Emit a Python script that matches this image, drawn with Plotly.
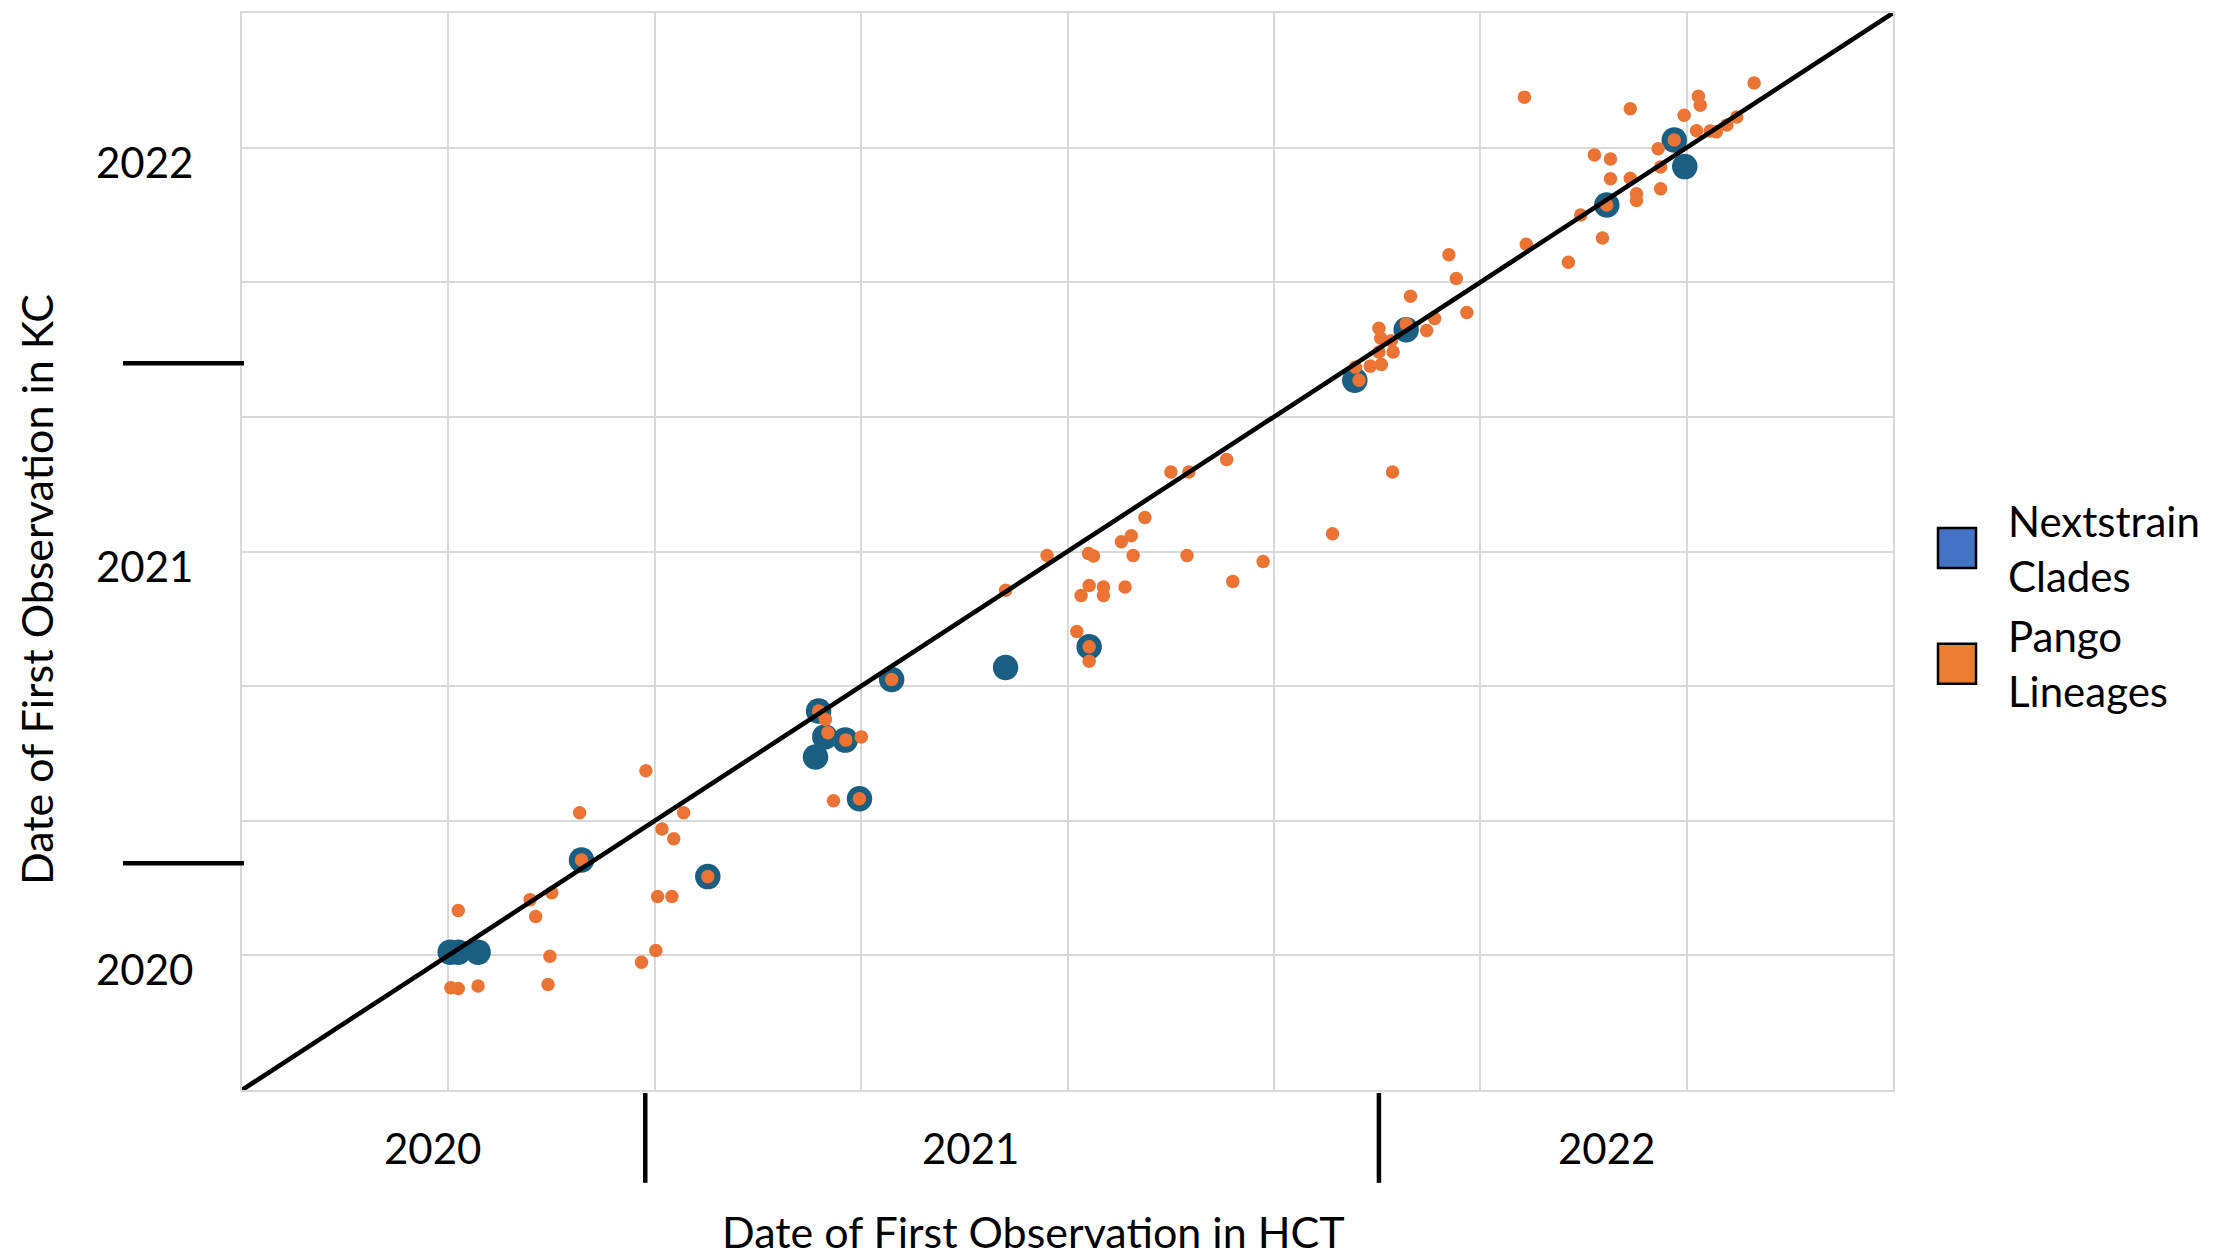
import plotly.graph_objects as go

# ---------------- data (decimal years) ----------------
series_names = ["Nextstrain Clades", "Pango Lineages"]

nextstrain_hct = [2020.003, 2020.016, 2020.048, 2020.215, 2020.419, 2020.716, 2020.900,
                  2020.598, 2020.608, 2020.641, 2020.593, 2020.664, 2021.035, 2021.464,
                  2021.547, 2021.871, 2021.980, 2021.997]
nextstrain_kc = [2020.008, 2020.008, 2020.008, 2020.236, 2020.195, 2020.683, 2020.713,
                 2020.605, 2020.541, 2020.533, 2020.491, 2020.388, 2020.764, 2021.424,
                 2021.549, 2021.858, 2022.019, 2021.953]

pango_hct = [2020.319, 2020.212, 2020.380, 2020.345, 2020.364, 2020.215, 2020.419, 2020.167,
             2020.132, 2020.141, 2020.016, 2020.338, 2020.361, 2020.164, 2020.335, 2020.312,
             2020.161, 2020.004, 2020.016, 2020.048,
             2020.716, 2020.598, 2020.609, 2020.613, 2020.642, 2020.667, 2020.622, 2020.664,
             2021.035, 2021.035, 2021.015, 2020.900, 2020.967, 2021.034, 2021.042, 2021.106,
             2021.193, 2021.316, 2021.267, 2021.022, 2021.035, 2021.058, 2021.058, 2021.093,
             2021.087, 2021.103, 2021.125, 2021.167, 2021.196, 2021.257,
             2021.471, 2021.465, 2021.489, 2021.507, 2021.503, 2021.526, 2021.506, 2021.523,
             2021.503, 2021.547, 2021.580, 2021.593, 2021.554, 2021.645, 2021.628, 2021.616,
             2021.741, 2021.809, 2021.525, 2021.428,
             2021.738, 2021.909, 2022.019, 2022.022, 2022.109, 2021.996, 2022.016, 2022.038,
             2022.048, 2022.065, 2022.081, 2021.980, 2021.954, 2021.851, 2021.877, 2021.958,
             2021.877, 2021.909, 2021.919, 2021.919, 2021.958, 2021.871, 2021.829, 2021.864]
pango_kc = [2020.457, 2020.353, 2020.353, 2020.313, 2020.289, 2020.236, 2020.195, 2020.155,
            2020.138, 2020.096, 2020.111, 2020.146, 2020.146, 2019.998, 2020.012, 2019.983,
            2019.928, 2019.920, 2019.918, 2019.924,
            2020.683, 2020.605, 2020.584, 2020.551, 2020.533, 2020.541, 2020.383, 2020.388,
            2020.764, 2020.728, 2020.802, 2020.904, 2020.990, 2020.995, 2020.989, 2020.990,
            2020.990, 2020.975, 2020.926, 2020.891, 2020.916, 2020.912, 2020.891, 2020.912,
            2021.024, 2021.039, 2021.084, 2021.197, 2021.197, 2021.228,
            2021.424, 2021.456, 2021.459, 2021.463, 2021.494, 2021.494, 2021.528, 2021.522,
            2021.553, 2021.563, 2021.547, 2021.577, 2021.632, 2021.592, 2021.676, 2021.735,
            2021.761, 2021.716, 2021.197, 2021.044,
            2022.125, 2022.096, 2022.127, 2022.105, 2022.160, 2022.080, 2022.042, 2022.041,
            2022.039, 2022.056, 2022.076, 2022.019, 2021.997, 2021.982, 2021.972, 2021.952,
            2021.923, 2021.924, 2021.886, 2021.869, 2021.898, 2021.858, 2021.833, 2021.776]

year_labels = ["2020", "2021", "2022"]
axis_start, axis_end = 2019 + 2 / 3, 2022 + 1 / 3
identity_line = [axis_start, axis_end]
x_title = "Date of First Observation in HCT"
y_title = "Date of First Observation in KC"

# ---------------- style ----------------
W, H = 2238, 1256
ML, MR, MT, MB = 242, 345, 11, 166
PW, PH = W - ML - MR, H - MT - MB
FONT = "Lato"
FS = 42
FS_TITLE = 43
BLUE_PT = "#1a5f82"
ORANGE_PT = "#eb7434"
BLUE_LEG = "#4472c4"
ORANGE_LEG = "#ed7d31"
GRID = "#d9d9d9"


def px_x(X):
    return (X - ML) / PW


def px_y(Y):
    return (H - MB - Y) / PH


fig = go.Figure()
fig.add_trace(go.Scatter(x=nextstrain_hct, y=nextstrain_kc, mode="markers", name=series_names[0],
                         marker=dict(size=25.5, color=BLUE_PT, line=dict(width=0)), showlegend=False))
fig.add_trace(go.Scatter(x=pango_hct, y=pango_kc, mode="markers", name=series_names[1],
                         marker=dict(size=13.5, color=ORANGE_PT, line=dict(width=0)), showlegend=False))
fig.add_trace(go.Scatter(x=identity_line, y=identity_line, mode="lines",
                         line=dict(color="black", width=4.6), showlegend=False, hoverinfo="skip"))

grid_vals = [axis_start + i / 3 for i in range(9)]
axis_common = dict(range=[axis_start, axis_end], tickmode="array", tickvals=grid_vals,
                   showticklabels=False, ticks="", showgrid=True, gridcolor=GRID, gridwidth=2,
                   zeroline=False, showline=True, mirror=True, linecolor=GRID, linewidth=2)
fig.update_xaxes(**axis_common)
fig.update_yaxes(**axis_common)

ann = []
shapes = []
# x year labels
x_label_pos = [2019.975, 2020.843, 2021.871]
for lab, xv in zip(year_labels, x_label_pos):
    ann.append(dict(x=xv, y=px_y(1148), xref="x", yref="paper", text=lab, showarrow=False,
                    xanchor="center", yanchor="middle", font=dict(size=FS, family=FONT, color="black")))
# y year labels
for lab in year_labels:
    ann.append(dict(x=px_x(144), y=float(lab), xref="paper", yref="y", text=lab, showarrow=False,
                    xanchor="center", yanchor="middle", yshift=-14,
                    font=dict(size=FS, family=FONT, color="black")))
# separators
for xv in [2020.318, 2021.503]:
    shapes.append(dict(type="line", xref="x", yref="paper", x0=xv, x1=xv, y0=px_y(1093), y1=px_y(1183),
                       line=dict(color="black", width=4.5)))
for yv in [2020.228, 2021.466]:
    shapes.append(dict(type="line", xref="paper", yref="y", x0=px_x(123), x1=px_x(244), y0=yv, y1=yv,
                       line=dict(color="black", width=4.5)))
# axis titles
ann.append(dict(x=px_x(1033), y=px_y(1232), xref="paper", yref="paper", text=x_title, showarrow=False,
                xanchor="center", yanchor="middle", font=dict(size=FS_TITLE, family=FONT, color="black")))
ann.append(dict(x=px_x(37), y=px_y(589), xref="paper", yref="paper", text=y_title, showarrow=False,
                textangle=-90, xanchor="center", yanchor="middle",
                font=dict(size=FS_TITLE, family=FONT, color="black")))
# legend (manual)
for name, col, yc in [(series_names[0], BLUE_LEG, 547), (series_names[1], ORANGE_LEG, 663)]:
    shapes.append(dict(type="rect", xref="paper", yref="paper", x0=px_x(1938), x1=px_x(1976),
                       y0=px_y(yc + 20), y1=px_y(yc - 20), fillcolor=col,
                       line=dict(color="black", width=2.5)))
    ann.append(dict(x=px_x(2006), y=px_y(yc), xref="paper", yref="paper", text=name.replace(" ", "<br>"),
                    showarrow=False, xanchor="left", yanchor="middle", align="left",
                    font=dict(size=FS, family=FONT, color="black")))

fig.update_layout(width=W, height=H, margin=dict(l=ML, r=MR, t=MT, b=MB, pad=0),
                  paper_bgcolor="white", plot_bgcolor="white", annotations=ann, shapes=shapes,
                  font=dict(family=FONT, size=FS, color="black"))

fig.write_html("out.html")
